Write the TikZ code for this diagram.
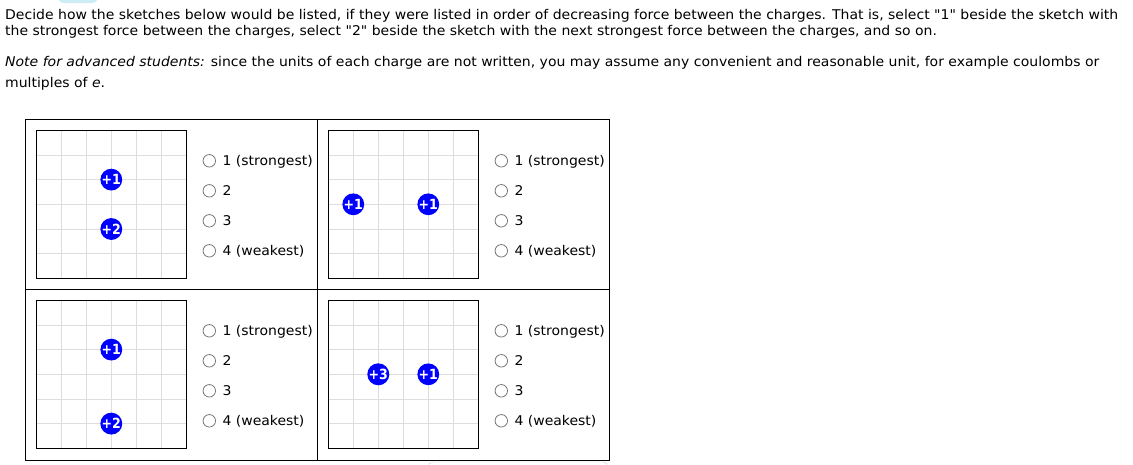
\documentclass[tikz,border=0pt]{standalone}
\usepackage{fontspec}
\setmainfont{DejaVu Sans}[FakeStretch=1.045, Ligatures=TeXOff]
\newfontfamily\chargefont{DejaVu Sans}[FakeStretch=0.9]
\usetikzlibrary{positioning}

\definecolor{gridgray}{RGB}{221,221,221}
\definecolor{radiogray}{RGB}{120,120,120}
\definecolor{chargeblue}{RGB}{0,0,255}
\definecolor{blobblue}{RGB}{205,236,244}
\definecolor{btnedge}{RGB}{200,210,218}

\tikzset{
  intro/.style={anchor=base west, inner sep=0pt, font=\fontsize{13.4}{15}\selectfont},
  charge/.style={circle, fill=chargeblue, text=white, inner sep=0pt, minimum size=20.5pt,
    font=\chargefont\fontsize{14}{14}\selectfont\bfseries},
  radio/.style={circle, draw=radiogray, line width=0.8pt, inner sep=0pt, minimum size=12.5pt},
  choice/.style={anchor=base west, inner sep=0pt, font=\fontsize{13.4}{15}\selectfont},
  sketchbox/.style={draw=black, line width=1pt},
}

\begin{document}
\begin{tikzpicture}[x=1pt, y=-1pt]
  \useasboundingbox (0,0) rectangle (1133,464);

  % bits of the page cut off at the edges
  \fill[blobblue, rounded corners=6pt] (58,-8) rectangle (98,3);
  \draw[btnedge, rounded corners=5pt] (428,470) -- (428,462) -- (608,462) -- (608,470);

  % question text
  \node[intro] (q1) at (5,19) {Decide how the sketches below would be listed, if they were listed in order of decreasing force between the charges. That is, select "1" beside the sketch with};
  \node[intro] (q2) at (5,35.7) {the strongest force between the charges, select "2" beside the sketch with the next strongest force between the charges, and so on.};
  \node[intro] (n1) at (5,66.5) {\textit{Note for advanced students:} since the units of each charge are not written, you may assume any convenient and reasonable unit, for example coulombs or};
  \node[intro] (n2) at (5,87) {multiples of \textit{e}.};

  % answer table
  \draw[line width=1pt] (25.3,119.3) rectangle (609.7,460);
  \draw[line width=1pt] (317.7,119.3) -- (317.7,460);
  \draw[line width=1pt] (25.3,289.3) -- (609.7,289.3);

  % the four sketches: box corner / name
  \foreach \bx/\by/\p in {36.3/130.3/A, 328.3/130.3/B, 36.3/300.3/C, 328.3/300.3/D} {
    \begin{scope}[shift={(\bx,\by)}]
      \foreach \i in {1,...,5} {
        \draw[gridgray, line width=0.8pt] (\i*25,0) -- (\i*25,148);
        \draw[gridgray, line width=0.8pt] (0,\i*24.67) -- (150,\i*24.67);
      }
      \draw[sketchbox] (0,0) rectangle (150,148);
      \foreach \k/\lbl in {1/1 (strongest), 2/2, 3/3, 4/4 (weakest)} {
        \node[radio] (r\p\k) at (173,30.5+30*\k-30) {};
        \node[choice] (t\p\k) at (186,35+30*\k-30) {\lbl};
      }
    \end{scope}
  }

  % charges
  \node[charge] (qA1) at (36.3+75,130.3+49.3) {+1};
  \node[charge] (qA2) at (36.3+75,130.3+98.7) {+2};
  \node[charge] (qB1) at (328.3+25,130.3+74) {+1};
  \node[charge] (qB2) at (328.3+100,130.3+74) {+1};
  \node[charge] (qC1) at (36.3+75,300.3+49.3) {+1};
  \node[charge] (qC2) at (36.3+75,300.3+123.3) {+2};
  \node[charge] (qD1) at (328.3+50,300.3+74) {+3};
  \node[charge] (qD2) at (328.3+100,300.3+74) {+1};
\end{tikzpicture}
\end{document}
